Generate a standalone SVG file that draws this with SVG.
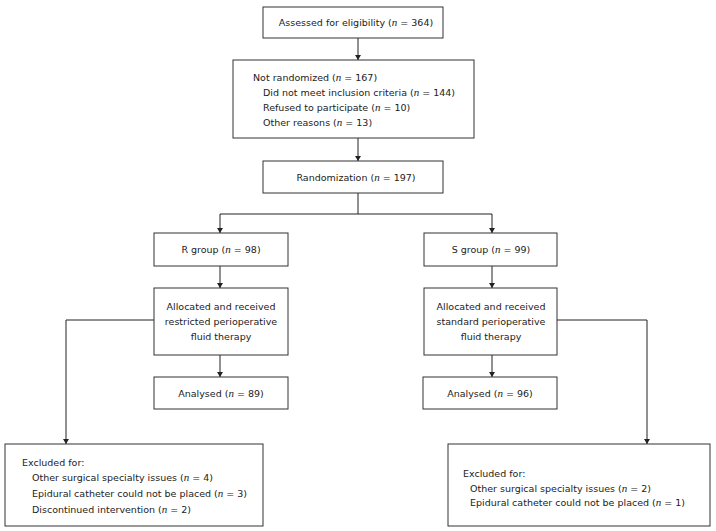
<svg xmlns="http://www.w3.org/2000/svg" width="716" height="531" viewBox="0 0 716 531">
<defs>
<marker id="ah" markerWidth="6" markerHeight="6" refX="5" refY="3" orient="auto" markerUnits="userSpaceOnUse">
<path d="M0,0 L5,3 L0,6 Z" fill="#222"/>
</marker>
<style>
.box{fill:#fff;stroke:#333;stroke-width:1}
.t{font-family:"DejaVu Sans",Verdana,sans-serif;font-size:9.5px;fill:#222}
.c{text-anchor:middle}
.i{font-family:"Liberation Serif",serif;font-style:italic;font-size:11px}
.ln{fill:none;stroke:#222;stroke-width:1}
.ar{marker-end:url(#ah)}
</style>
</defs>
<rect width="716" height="531" fill="#fff"/>
<g id="connectors">
<path class="ln ar" d="M358,38 V60"/>
<path class="ln ar" d="M358,138 V161"/>
<path class="ln" d="M358,193 V214 H220"/>
<path class="ln ar" d="M220,214 V233"/>
<path class="ln ar" d="M358,214 H492 V233"/>
<path class="ln ar" d="M220,266 V288"/>
<path class="ln ar" d="M492,266 V288"/>
<path class="ln ar" d="M220,355 V377"/>
<path class="ln ar" d="M492,355 V377"/>
<path class="ln ar" d="M154,320 H66 V444"/>
<path class="ln ar" d="M557,320 H647 V444"/>
</g>
<g id="assessed">
<rect class="box" x="263" y="7" width="180" height="31"/>
<text class="t c" x="356" y="26">Assessed for eligibility (<tspan class="i">n</tspan> = 364)</text>
</g>
<g id="not-randomized">
<rect class="box" x="233" y="60" width="241" height="78"/>
<text class="t" x="253" y="81">Not randomized (<tspan class="i">n</tspan> = 167)</text>
<text class="t" x="263" y="96">Did not meet inclusion criteria (<tspan class="i">n</tspan> = 144)</text>
<text class="t" x="263" y="111">Refused to participate (<tspan class="i">n</tspan> = 10)</text>
<text class="t" x="263" y="126">Other reasons (<tspan class="i">n</tspan> = 13)</text>
</g>
<g id="randomization">
<rect class="box" x="263" y="161" width="180" height="32"/>
<text class="t c" x="356" y="181">Randomization (<tspan class="i">n</tspan> = 197)</text>
</g>
<g id="r-group">
<rect class="box" x="154" y="233" width="134" height="33"/>
<text class="t c" x="221" y="253">R group (<tspan class="i">n</tspan> = 98)</text>
</g>
<g id="s-group">
<rect class="box" x="424" y="233" width="133" height="33"/>
<text class="t c" x="491" y="253">S group (<tspan class="i">n</tspan> = 99)</text>
</g>
<g id="r-allocated">
<rect class="box" x="154" y="288" width="134" height="67"/>
<text class="t c" x="221" y="310">Allocated and received</text>
<text class="t c" x="221" y="325">restricted perioperative</text>
<text class="t c" x="221" y="340">fluid therapy</text>
</g>
<g id="s-allocated">
<rect class="box" x="424" y="288" width="133" height="67"/>
<text class="t c" x="491" y="310">Allocated and received</text>
<text class="t c" x="491" y="325">standard perioperative</text>
<text class="t c" x="491" y="340">fluid therapy</text>
</g>
<g id="r-analysed">
<rect class="box" x="154" y="377" width="134" height="32"/>
<text class="t c" x="221" y="397">Analysed (<tspan class="i">n</tspan> = 89)</text>
</g>
<g id="s-analysed">
<rect class="box" x="423" y="377" width="134" height="32"/>
<text class="t c" x="490" y="397">Analysed (<tspan class="i">n</tspan> = 96)</text>
</g>
<g id="r-excluded">
<rect class="box" x="5" y="444" width="258" height="82"/>
<text class="t" x="22" y="466">Excluded for:</text>
<text class="t" x="32" y="481">Other surgical specialty issues (<tspan class="i">n</tspan> = 4)</text>
<text class="t" x="32" y="497">Epidural catheter could not be placed (<tspan class="i">n</tspan> = 3)</text>
<text class="t" x="32" y="513">Discontinued intervention (<tspan class="i">n</tspan> = 2)</text>
</g>
<g id="s-excluded">
<rect class="box" x="448" y="444" width="262" height="82"/>
<text class="t" x="463" y="477">Excluded for:</text>
<text class="t" x="470" y="492">Other surgical specialty issues (<tspan class="i">n</tspan> = 2)</text>
<text class="t" x="470" y="506">Epidural catheter could not be placed (<tspan class="i">n</tspan> = 1)</text>
</g>
</svg>
